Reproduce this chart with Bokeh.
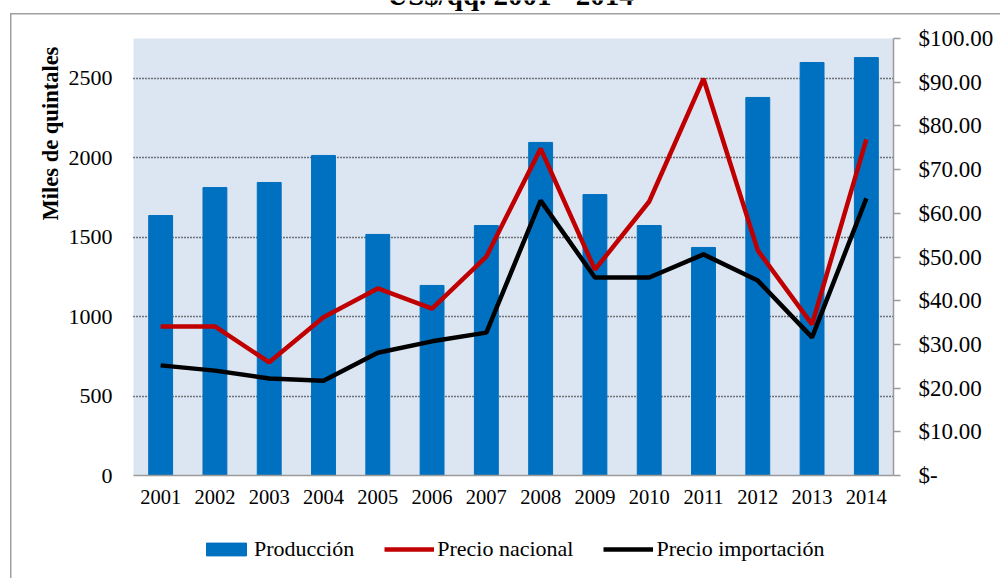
import math
from bokeh.plotting import figure
from bokeh.models import (Range1d, LinearAxis, FixedTicker, Label, BoxAnnotation,
                          Legend, LegendItem)
from bokeh.embed import file_html
from bokeh.resources import INLINE

# ---- data ----
years = [2001, 2002, 2003, 2004, 2005, 2006, 2007, 2008, 2009, 2010, 2011, 2012, 2013, 2014]
produccion = [1636, 1812, 1844, 2014, 1517, 1196, 1573, 2096, 1768, 1573, 1435, 2379, 2599, 2630]
precio_nacional = [34.1, 34.1, 25.9, 36.2, 42.8, 38.2, 50.1, 74.8, 47.1, 62.7, 90.8, 51.5, 34.6, 76.9]
precio_importacion = [25.2, 24.0, 22.2, 21.7, 28.1, 30.7, 32.7, 62.9, 45.3, 45.3, 50.6, 44.6, 31.6, 63.4]
left_ticks = [0, 500, 1000, 1500, 2000, 2500]
right_ticks = [0, 10, 20, 30, 40, 50, 60, 70, 80, 90, 100]
right_labels = ["$-", "$10.00", "$20.00", "$30.00", "$40.00", "$50.00",
                "$60.00", "$70.00", "$80.00", "$90.00", "$100.00"]
title_text = "US$/qq. 2001 - 2014"
y_label_text = "Miles de quintales"
legend_labels = ["Producción", "Precio nacional", "Precio importación"]

# ---- layout (pixels on the 1000x578 page) ----
W, H = 1000, 578
PX_L, PX_R, PY_T, PY_B = 133, 893, 38, 475       # plot area
X_LO, X_HI = 2000.5, 2014.5                       # category span
Y_MAX, P_MAX = 2750, 100                          # left / right axis maxima
FONT = "Liberation Serif"
GRAY = "#a0a0a0"

xs = (X_HI - X_LO) / (PX_R - PX_L)               # data units per px
ys = Y_MAX / (PY_B - PY_T)
ps = P_MAX / (PY_B - PY_T)


def xd(px):
    return X_LO + (px - PX_L) * xs


def yd(py):
    return (PY_B - py) * ys


p = figure(width=W, height=H, output_backend="svg", toolbar_location=None,
           x_range=Range1d(xd(0), xd(W)), y_range=Range1d(yd(H), yd(0)),
           x_axis_location=None, y_axis_location=None,
           min_border=0, min_border_left=0, min_border_right=0,
           min_border_top=0, min_border_bottom=0,
           background_fill_color=None, border_fill_color=None,
           outline_line_color=None)
# outer chart frame (thin gray lines at left and top), drawn behind the transparent canvas
p.styles = {
    "background": (f"linear-gradient({GRAY},{GRAY}) 10px 13px / 1.5px 100% no-repeat, "
                   f"linear-gradient({GRAY},{GRAY}) 10px 13px / 100% 1.5px no-repeat, "
                   "#ffffff"),
}
p.extra_y_ranges = {"price": Range1d((PY_B - H) * ps, PY_B * ps)}
for g in p.grid:
    g.visible = False

# plot-area background
p.add_layout(BoxAnnotation(left=X_LO, right=X_HI, bottom=0, top=Y_MAX,
                           fill_color="#dce6f2", fill_alpha=1, line_color=None,
                           level="image"))

# dotted horizontal gridlines (drawn as long inward ticks of a label-less axis)
ga = LinearAxis(fixed_location=X_LO, bounds=(0, Y_MAX),
                ticker=FixedTicker(ticks=left_ticks[1:]),
                major_label_overrides={t: "" for t in left_ticks[1:]})
ga.level = "underlay"
ga.axis_line_color = None
ga.major_tick_in = PX_R - PX_L
ga.major_tick_out = 0
ga.minor_tick_in = 0
ga.minor_tick_out = 0
ga.major_tick_line_color = "black"
ga.major_tick_line_dash = "1 2"
ga.major_tick_line_width = 1.3
ga.major_label_text_font_size = "1px"
p.add_layout(ga, "left")

# left axis
ya = LinearAxis(fixed_location=X_LO, bounds=(0, Y_MAX), ticker=FixedTicker(ticks=left_ticks))
ya.axis_line_color = None
ya.major_tick_out = 0
ya.major_tick_in = 0
ya.minor_tick_out = 0
ya.minor_tick_in = 0
ya.major_label_standoff = 21
ya.major_label_text_font = FONT
ya.major_label_text_font_size = "22px"
ya.major_label_text_color = "black"
p.add_layout(ya, "left")

# bottom axis
xa = LinearAxis(fixed_location=0, bounds=(X_LO, X_HI), ticker=FixedTicker(ticks=years))
xa.axis_line_color = "#9a9a9a"
xa.axis_line_width = 1.5
xa.major_tick_out = 0
xa.major_tick_in = 0
xa.minor_tick_out = 0
xa.minor_tick_in = 0
xa.major_label_standoff = 14
xa.major_label_text_font = FONT
xa.major_label_text_font_size = "20.5px"
xa.major_label_text_color = "black"
p.add_layout(xa, "below")

# right axis
ra = LinearAxis(y_range_name="price", fixed_location=X_HI, bounds=(0, P_MAX),
                ticker=FixedTicker(ticks=right_ticks),
                major_label_overrides=dict(zip(right_ticks, right_labels)))
ra.axis_line_color = "#9a9a9a"
ra.axis_line_width = 1.5
ra.major_tick_out = 7
ra.major_tick_in = 0
ra.major_tick_line_color = "#9a9a9a"
ra.major_tick_line_width = 1.5
ra.minor_tick_out = 0
ra.minor_tick_in = 0
ra.major_label_standoff = 18
ra.major_label_text_font = FONT
ra.major_label_text_font_size = "23px"
ra.major_label_text_color = "black"
p.add_layout(ra, "right")

# data
bars = p.vbar(x=years, top=produccion, width=0.44, fill_color="#0070c0",
              line_color="#0070c0")
l_nac = p.line(years, precio_nacional, y_range_name="price", line_color="#c00000",
               line_width=4.5)
l_imp = p.line(years, precio_importacion, y_range_name="price", line_color="black",
               line_width=4.5)

legend = Legend(items=[LegendItem(label=legend_labels[0], renderers=[bars]),
                       LegendItem(label=legend_labels[1], renderers=[l_nac]),
                       LegendItem(label=legend_labels[2], renderers=[l_imp])],
                orientation="horizontal", location=(201, 16), padding=0, margin=0,
                border_line_color=None, background_fill_alpha=0,
                glyph_width=50, glyph_height=16, label_standoff=3, spacing=30,
                label_text_font=FONT, label_text_font_size="22px",
                label_text_color="black")
p.add_layout(legend)

# title, cut at the top edge as in the reference
p.add_layout(Label(x=xd(510), y=yd(-6), text=title_text, text_font=FONT,
                   text_font_style="bold", text_font_size="29px",
                   text_align="center", text_baseline="alphabetic", text_color="black"))

# y axis label
p.add_layout(Label(x=xd(50), y=yd(133), text=y_label_text, angle=math.pi / 2,
                   text_font=FONT, text_font_style="bold", text_font_size="22.5px",
                   text_align="center", text_baseline="middle", text_color="black"))

open("out.html", "w").write(file_html(p, INLINE))
